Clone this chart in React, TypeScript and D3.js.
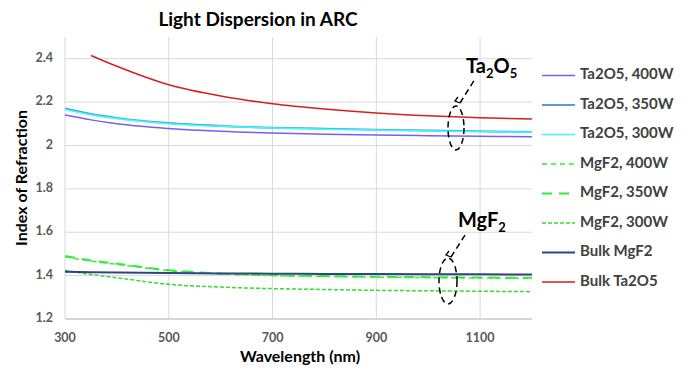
import React, { useRef, useEffect } from 'react';
import * as d3 from 'd3';

const wavelengths = [300, 350, 400, 500, 600, 700, 800, 900, 1000, 1100, 1200];

const ta400W = [2.140, 2.118, 2.100, 2.078, 2.065, 2.057, 2.052, 2.048, 2.045, 2.042, 2.040];
const ta350W = [2.170, 2.145, 2.127, 2.103, 2.090, 2.082, 2.077, 2.073, 2.069, 2.065, 2.062];
const ta300W = [2.166, 2.142, 2.124, 2.100, 2.088, 2.080, 2.075, 2.071, 2.067, 2.064, 2.061];
const mg400W = [1.487, 1.467, 1.452, 1.423, 1.408, 1.400, 1.396, 1.393, 1.391, 1.389, 1.388];
const mg350W = [1.490, 1.470, 1.455, 1.425, 1.410, 1.402, 1.398, 1.395, 1.393, 1.391, 1.390];
const mg300W = [1.425, 1.405, 1.390, 1.360, 1.347, 1.340, 1.336, 1.332, 1.330, 1.328, 1.326];
const bulkMgF2 = [1.418, 1.416, 1.414, 1.412, 1.410, 1.409, 1.408, 1.407, 1.406, 1.406, 1.405];
const bulkTa2O5 = [NaN, 2.415, 2.365, 2.280, 2.228, 2.192, 2.168, 2.150, 2.137, 2.128, 2.122];

const xTicks = [300, 500, 700, 900, 1100];
const yTicks = [1.2, 1.4, 1.6, 1.8, 2, 2.2, 2.4];

const seriesList = [
  { name: 'Ta2O5, 400W', values: ta400W, color: '#7B5CF5', dash: '', width: 1.5 },
  { name: 'Ta2O5, 350W', values: ta350W, color: '#5B9BD5', dash: '', width: 2 },
  { name: 'Ta2O5, 300W', values: ta300W, color: '#33FFFF', dash: '', width: 1.5 },
  { name: 'MgF2, 400W', values: mg400W, color: '#33EE33', dash: '5,4', width: 1.5 },
  { name: 'MgF2, 350W', values: mg350W, color: '#33EE33', dash: '10,7', width: 2 },
  { name: 'MgF2, 300W', values: mg300W, color: '#33DD33', dash: '4,2', width: 1.5 },
  { name: 'Bulk MgF2', values: bulkMgF2, color: '#2F4385', dash: '', width: 2 },
  { name: 'Bulk Ta2O5', values: bulkTa2O5, color: '#D42020', dash: '', width: 1.5 },
];

const FONT = 'Lato, "Open Sans", sans-serif';

const App: React.FC = () => {
  const svgRef = useRef<SVGSVGElement>(null);
  const width = 692;
  const height = 370;

  useEffect(() => {
    if (!svgRef.current) return;
    const svg = d3.select(svgRef.current);
    svg.selectAll('*').remove();

    const margin = { top: 37, right: 160, bottom: 51, left: 65 };
    const w = 532 - margin.left;
    const h = height - margin.top - margin.bottom;

    const g = svg.append('g')
      .attr('transform', `translate(${margin.left},${margin.top})`);

    const xScale = d3.scaleLinear().domain([300, 1200]).range([0, w]);
    const yScale = d3.scaleLinear().domain([1.2, 2.5]).range([h, 0]);

    // Grid
    yTicks.forEach(v => {
      g.append('line')
        .attr('x1', 0).attr('x2', w)
        .attr('y1', yScale(v)).attr('y2', yScale(v))
        .attr('stroke', '#d9d9d9').attr('stroke-width', 1);
    });
    xTicks.forEach(v => {
      g.append('line')
        .attr('x1', xScale(v)).attr('x2', xScale(v))
        .attr('y1', 0).attr('y2', h)
        .attr('stroke', '#d9d9d9').attr('stroke-width', 1);
    });
    g.append('line')
      .attr('x1', 0).attr('x2', w)
      .attr('y1', h).attr('y2', h)
      .attr('stroke', '#cfcfcf').attr('stroke-width', 1.5);

    // Tick labels
    yTicks.forEach(v => {
      g.append('text')
        .attr('x', -12).attr('y', yScale(v))
        .attr('text-anchor', 'end')
        .attr('dominant-baseline', 'middle')
        .attr('font-family', FONT).attr('font-size', '12.5px').attr('font-weight', 700)
        .attr('fill', '#595959')
        .text(d3.format('~g')(v));
    });
    xTicks.forEach(v => {
      g.append('text')
        .attr('x', xScale(v)).attr('y', h + 23)
        .attr('text-anchor', 'middle')
        .attr('font-family', FONT).attr('font-size', '12.5px').attr('font-weight', 700)
        .attr('fill', '#595959')
        .text(v);
    });

    // Lines
    const line = d3.line<number>()
      .defined(d => !isNaN(d))
      .x((d, i) => xScale(wavelengths[i]))
      .y(d => yScale(d))
      .curve(d3.curveMonotoneX);

    seriesList.forEach(s => {
      g.append('path')
        .datum(s.values)
        .attr('d', line)
        .attr('fill', 'none')
        .attr('stroke', s.color)
        .attr('stroke-width', s.width)
        .attr('stroke-dasharray', s.dash || null);
    });

    // Annotations
    const annotations = [
      { cx: 456, cy: 128, rx: 8, ry: 22, lx1: 460, ly1: 103, lx2: 475, ly2: 79, label: 'Ta', sub1: '2', mid: 'O', sub2: '5', tx: 466, ty: 73 },
      { cx: 448, cy: 281, rx: 9, ry: 23, lx1: 451, ly1: 257, lx2: 467, ly2: 232, label: 'MgF', sub1: '2', mid: '', sub2: '', tx: 458, ty: 227 },
    ];
    annotations.forEach(a => {
      svg.append('ellipse')
        .attr('cx', a.cx).attr('cy', a.cy).attr('rx', a.rx).attr('ry', a.ry)
        .attr('fill', 'none').attr('stroke', '#000')
        .attr('stroke-width', 1.5).attr('stroke-dasharray', '6,4');
      svg.append('line')
        .attr('x1', a.lx1).attr('y1', a.ly1).attr('x2', a.lx2).attr('y2', a.ly2)
        .attr('stroke', '#000').attr('stroke-width', 1.5).attr('stroke-dasharray', '6,4');
      svg.append('polyline')
        .attr('points', `${a.lx1 - 2},${a.ly1 - 6} ${a.lx1 - 5},${a.ly1 - 2} ${a.lx1},${a.ly1}`)
        .attr('fill', 'none').attr('stroke', '#000').attr('stroke-width', 1.3);
      const t = svg.append('text')
        .attr('x', a.tx).attr('y', a.ty)
        .attr('font-family', FONT).attr('font-size', '20px').attr('font-weight', 700)
        .attr('fill', '#000');
      t.append('tspan').text(a.label);
      t.append('tspan').attr('font-size', '13px').attr('dy', 5).text(a.sub1);
      if (a.mid) {
        t.append('tspan').attr('dy', -5).text(a.mid);
        t.append('tspan').attr('font-size', '13px').attr('dy', 5).text(a.sub2);
      }
    });

    // Axis labels
    svg.append('text')
      .attr('x', 300).attr('y', 362)
      .attr('text-anchor', 'middle')
      .attr('font-family', FONT).attr('font-size', '16px').attr('font-weight', 700)
      .attr('fill', '#000')
      .text('Wavelength (nm)');

    svg.append('text')
      .attr('transform', 'rotate(-90)')
      .attr('x', -178).attr('y', 27)
      .attr('text-anchor', 'middle')
      .attr('font-family', FONT).attr('font-size', '16px').attr('font-weight', 700)
      .attr('fill', '#000')
      .text('Index of Refraction');

    // Title
    svg.append('text')
      .attr('x', 258).attr('y', 26)
      .attr('text-anchor', 'middle')
      .attr('font-family', FONT).attr('font-size', '19px').attr('font-weight', 700)
      .attr('fill', '#000')
      .text('Light Dispersion in ARC');

    // Legend
    const legend = svg.append('g').attr('transform', 'translate(542, 75.5)');
    seriesList.forEach((s, i) => {
      const ly = i * 29.5;
      legend.append('line')
        .attr('x1', 0).attr('x2', 33)
        .attr('y1', ly).attr('y2', ly)
        .attr('stroke', s.color)
        .attr('stroke-width', s.width)
        .attr('stroke-dasharray', s.dash || null);
      legend.append('text')
        .attr('x', 38).attr('y', ly)
        .attr('dominant-baseline', 'middle')
        .attr('font-family', FONT).attr('font-size', '15px').attr('font-weight', 700)
        .attr('fill', '#404040')
        .text(s.name);
    });
  }, []);

  return <svg ref={svgRef} width={width} height={height} style={{ position: 'absolute', left: 0, top: 0 }} />;
};

export default App;
